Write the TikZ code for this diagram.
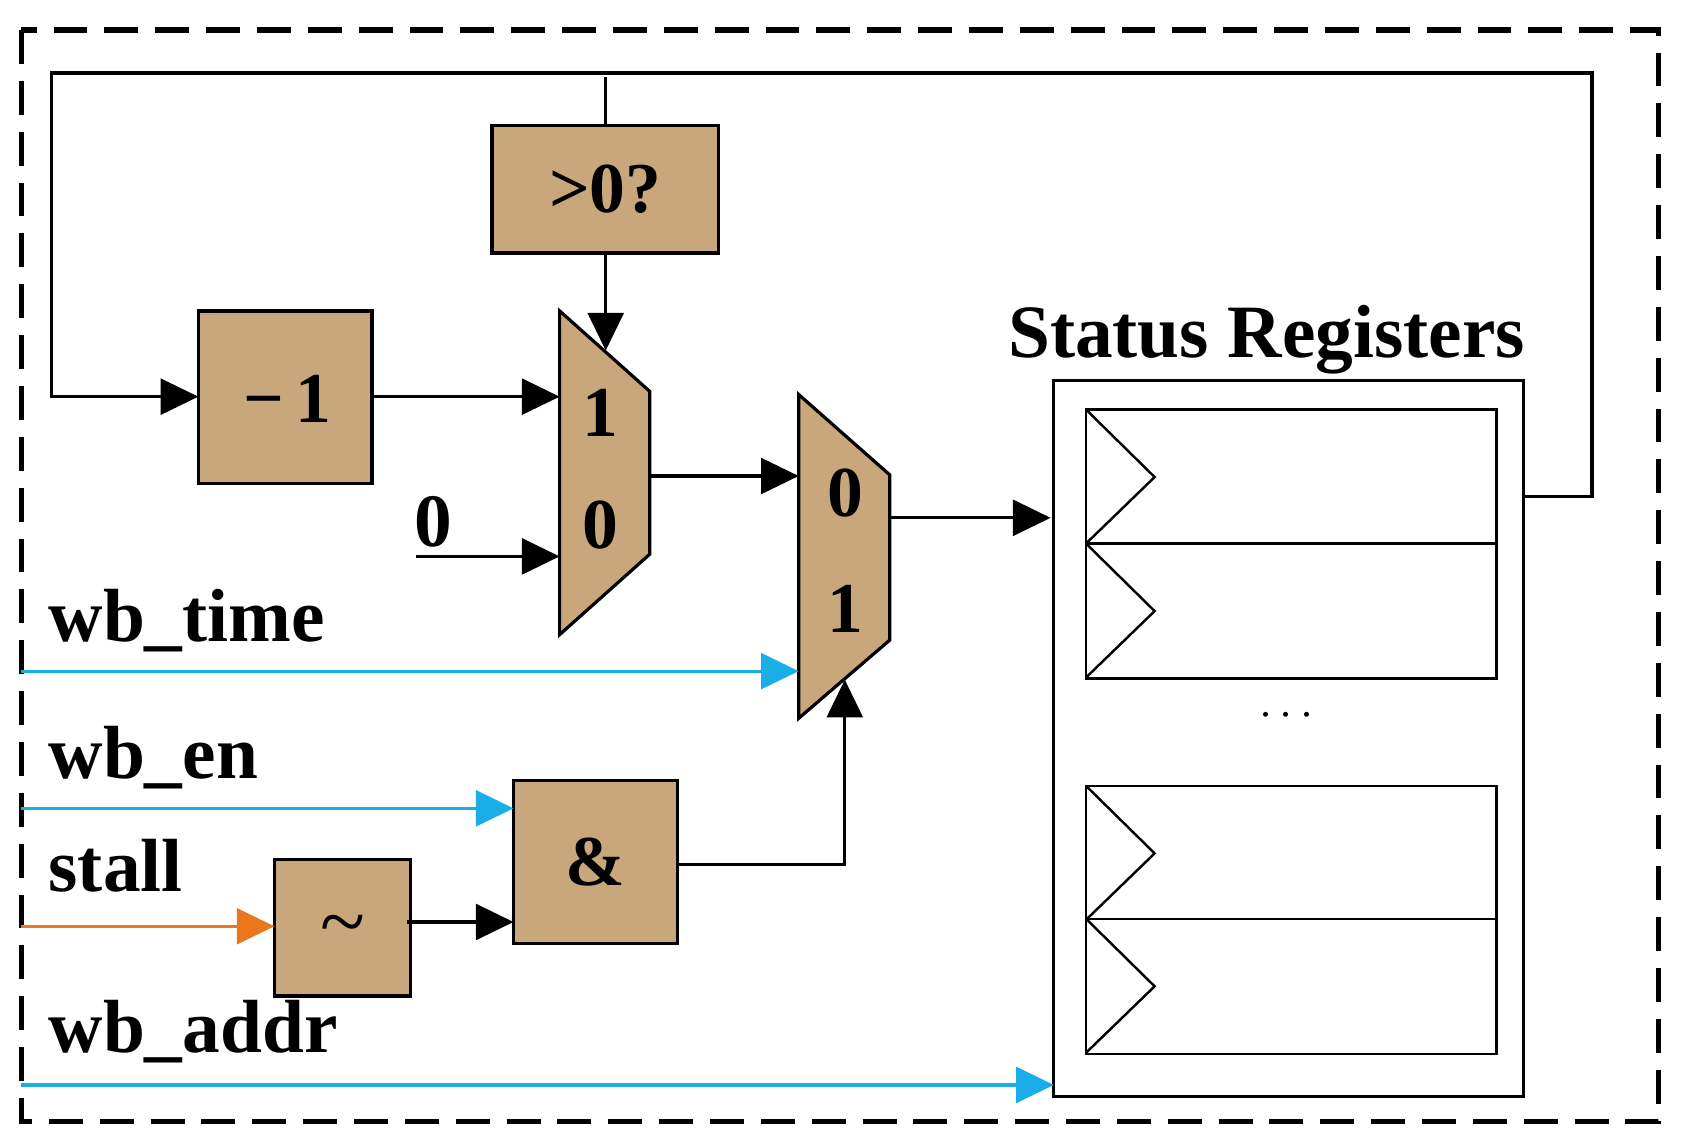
\documentclass[tikz,border=0pt]{standalone}
\usepackage{fontspec}
\setmainfont{Liberation Serif}
\usetikzlibrary{arrows.meta}
\definecolor{tan}{HTML}{C8A77D}
\definecolor{cy}{HTML}{1AAEE8}
\definecolor{orng}{HTML}{E8771E}
\begin{document}
\begin{tikzpicture}[x=0.02cm,y=-0.02cm,
  w/.style={line width=1.7pt},
  arr/.style={w,-{Triangle[length=20pt,width=19pt]}},
  blk/.style={draw,w,fill=tan},
  lab/.style={font=\bfseries\fontsize{40}{40}\selectfont,anchor=base west,inner sep=0},
  dig/.style={font=\bfseries\fontsize{38}{38}\selectfont,inner sep=0}]
\useasboundingbox (0,0) rectangle (1568,1069);
\draw[line width=2.8pt,dash pattern=on 18pt off 9pt] (20,28) rectangle (1547,1046);
% blocks
\draw[blk] (459,117) rectangle (670,236);
\node[dig] (gt) at (564.5,176.5) {>0?};
\draw[blk] (185,290) rectangle (347,451);
\node[dig] (m1b) at (268,372) {\char"2212\,1};
\draw[blk] (522,290) -- (606,365) -- (606,517) -- (522,592) -- cycle;
\node[dig] (m1a) at (560,385) {1};
\node[dig] (m1z) at (560,490) {0};
\draw[blk] (745,368) -- (830,443) -- (830,597) -- (745,670) -- cycle;
\node[dig] (m2z) at (789,460) {0};
\node[dig] (m2a) at (789,568) {1};
\draw[blk] (479,728) rectangle (632,880);
\node[dig] (and) at (555,804) {\&};
\draw[blk] (256,802) rectangle (383,929);
\node[font=\fontsize{44}{44}\selectfont,inner sep=0] (not) at (320,870) {\textasciitilde};
% status registers
\node[lab] (sr) at (940,333) {Status Registers};
\draw[w] (983,355) rectangle (1421,1023);
\draw[line width=1.3pt] (1013,382) rectangle (1396,633) (1013,507) -- (1396,507)
  (1013,733) rectangle (1396,983) (1013,857) -- (1396,857);
\foreach \y in {382,507,733,857}
  \draw[line width=1.3pt] (1013,\y) -- (1077,\y+63) -- (1013,\y+125);
\node[font=\fontsize{26}{26}\selectfont] (dots) at (1200,668) {$\cdots$};
% feedback
\draw[arr] (1421,463) -- (1485,463) -- (1485,68) -- (48,68) -- (48,370) -- (185,370);
\draw[w] (565,72) -- (565,117);
\draw[arr] (565,236) -- (565,327);
\draw[arr] (347,370) -- (522,370);
\node[lab] (zero) at (386,510) {0};
\draw[arr] (388,519) -- (522,519);
\draw[arr] (606,444) -- (745,444);
\draw[arr] (830,483) -- (980,483);
% inputs
\node[lab] (t1) at (45,598) {wb\_time};
\draw[arr,cy] (20,626) -- (745,626);
\node[lab] (t2) at (45,726) {wb\_en};
\draw[arr,cy] (20,754) -- (479,754);
\node[lab] (t3) at (45,832) {stall};
\draw[arr,orng] (20,864) -- (256,864);
\node[lab] (t4) at (45,982) {wb\_addr};
\draw[arr,cy] (20,1012) -- (983,1012);
\draw[arr] (380,860) -- (479,860);
\draw[arr] (632,806) -- (788,806) -- (788,634);
\end{tikzpicture}
\end{document}
